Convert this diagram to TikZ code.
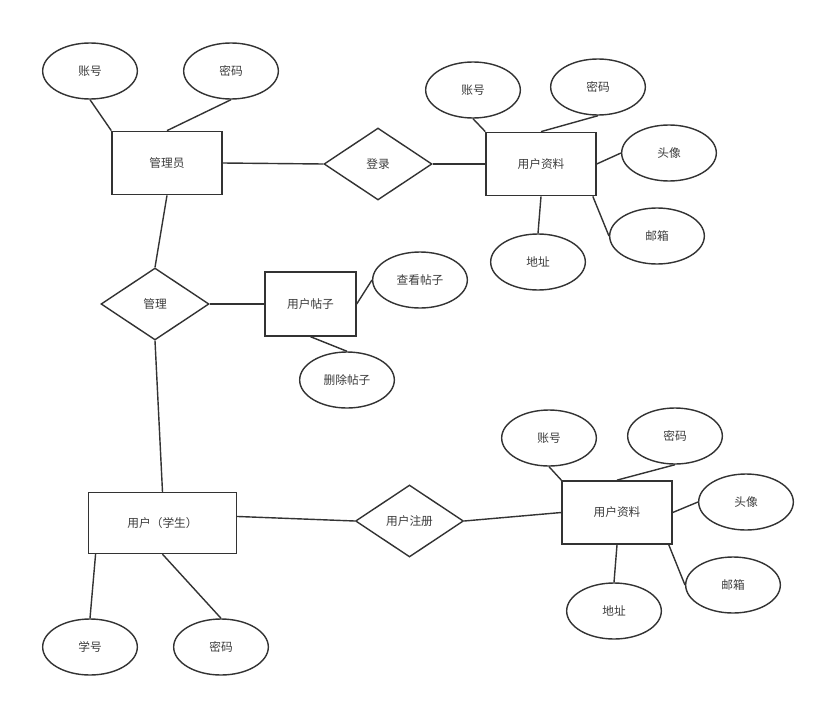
\documentclass[tikz,border=0pt]{standalone}
\usepackage{fontspec}
\setmainfont{Noto Sans CJK SC}
\usepackage{tikz}
\usetikzlibrary{shapes.geometric}

\definecolor{edgegray}{HTML}{333333}
\definecolor{textgray}{HTML}{3C3C3C}

\tikzset{
    entity/.style={draw=edgegray, line width=1.2pt, fill=white, rectangle, inner sep=0pt,
        minimum width=3.3cm, minimum height=1.9cm, text=textgray, font=\fontsize{10}{12}\selectfont},
    attr/.style={draw=edgegray, line width=1.2pt, fill=white, ellipse, inner sep=0pt,
        minimum width=2.84cm, minimum height=1.68cm, text=textgray, font=\fontsize{10}{12}\selectfont},
    rel/.style={draw=edgegray, line width=1.2pt, fill=white, diamond, inner sep=0pt,
        minimum width=3.24cm, minimum height=2.16cm, text=textgray, font=\fontsize{10}{12}\selectfont},
    link/.style={draw=edgegray, line width=1.2pt}
}

\begin{document}
\begin{tikzpicture}[x=0.03cm, y=-0.03cm]
    \useasboundingbox (0,0) rectangle (821,703);

    % Administrator and login
    \node [entity] (admin) at (167,163) {管理员};
    \node [attr] (adminAcc) at (90,71) {账号};
    \node [attr] (adminPwd) at (231,71) {密码};
    \node [rel] (login) at (378,164) {登录};

    % Profile reached by login
    \node [entity] (profA) at (541,164) {用户资料};
    \node [attr] (profAAcc) at (473,90) {账号};
    \node [attr] (profAPwd) at (598,87) {密码};
    \node [attr] (profAImg) at (669,153) {头像};
    \node [attr] (profAMail) at (657,236) {邮箱};
    \node [attr] (profAAddr) at (538,262) {地址};

    % Post management
    \node [rel] (manage) at (155,304) {管理};
    \node [entity, minimum width=2.73cm, minimum height=1.92cm] (post) at (310.5,304) {用户帖子};
    \node [attr] (postView) at (420,280) {查看帖子};
    \node [attr] (postDel) at (347,380) {删除帖子};

    % Student and registration
    \node [entity, minimum width=4.44cm, minimum height=1.83cm] (student) at (162.5,523) {用户（学生）};
    \node [attr] (stuNo) at (90,647) {学号};
    \node [attr] (stuPwd) at (221,647) {密码};
    \node [rel] (register) at (409.5,521) {用户注册};

    % Profile reached by registration
    \node [entity] (profB) at (617,512.5) {用户资料};
    \node [attr] (profBAcc) at (549,438) {账号};
    \node [attr] (profBPwd) at (675,436) {密码};
    \node [attr] (profBImg) at (746,502) {头像};
    \node [attr] (profBMail) at (733,585) {邮箱};
    \node [attr] (profBAddr) at (614,611) {地址};

    % Connectors
    \draw [link] (adminAcc.south) -- (admin.north west);
    \draw [link] (adminPwd.south) -- (admin.north);
    \draw [link] (admin.east) -- (login.west);
    \draw [link] (login.east) -- (profA.west);
    \draw [link] (profAAcc.south) -- (profA.north west);
    \draw [link] (profAPwd.south) -- (profA.north);
    \draw [link] (profAImg.west) -- (profA.east);
    \draw [link] (profAMail.west) -- (profA.-32);
    \draw [link] (profAAddr.north) -- (profA.south);

    \draw [link] (admin.south) -- (manage.north);
    \draw [link] (manage.east) -- (post.west);
    \draw [link] (postView.west) -- (post.east);
    \draw [link] (postDel.north) -- (post.south);
    \draw [link] (manage.south) -- (student.north);

    \draw [link] (stuNo.north) -- (student.-155);
    \draw [link] (stuPwd.north) -- (student.south);
    \draw [link] (student.5) -- (register.west);
    \draw [link] (register.east) -- (profB.west);
    \draw [link] (profBAcc.south) -- (profB.north west);
    \draw [link] (profBPwd.south) -- (profB.north);
    \draw [link] (profBImg.west) -- (profB.east);
    \draw [link] (profBMail.west) -- (profB.-32);
    \draw [link] (profBAddr.north) -- (profB.south);
\end{tikzpicture}
\end{document}
